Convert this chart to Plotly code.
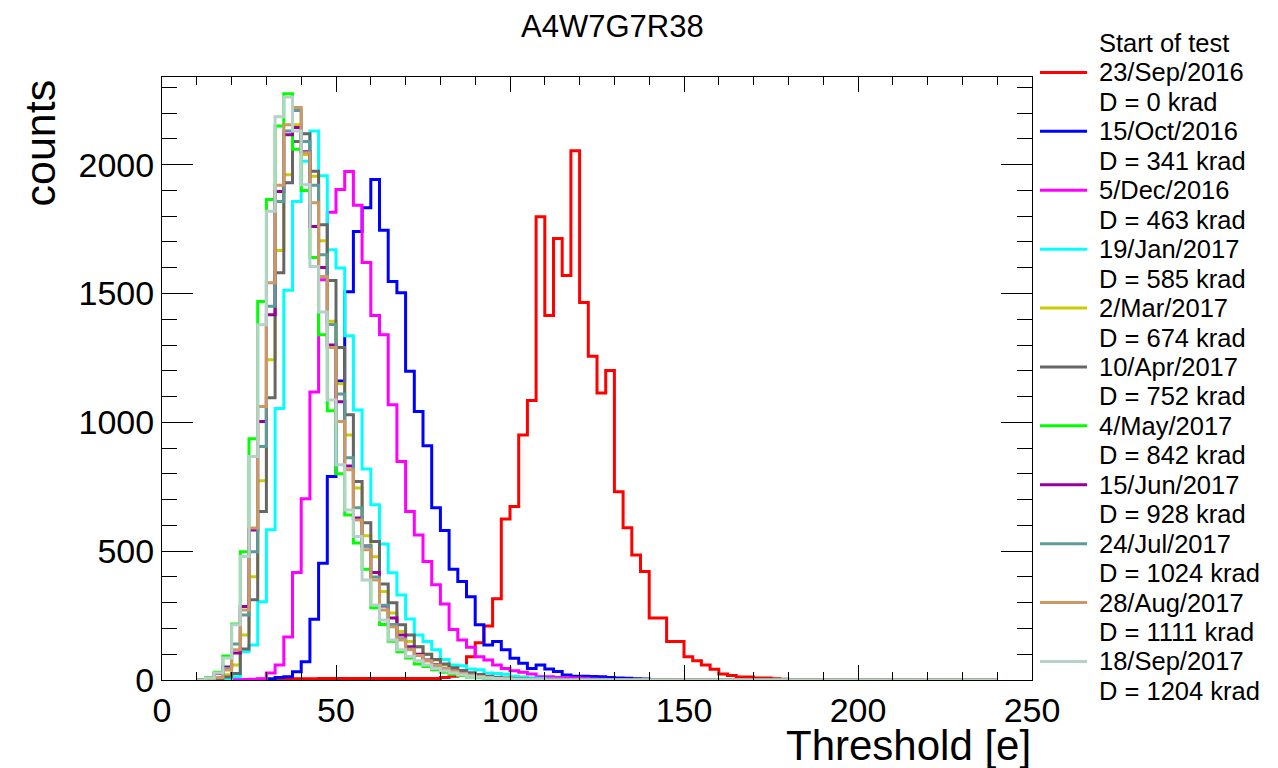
import plotly.graph_objects as go

# ---------------- data ----------------
BIN_LO = 10.0
BIN_W = 2.5
N_BINS = 92  # 10 .. 240

dates = ["23/Sep/2016", "15/Oct/2016", "5/Dec/2016", "19/Jan/2017", "2/Mar/2017",
         "10/Apr/2017", "4/May/2017", "15/Jun/2017", "24/Jul/2017", "28/Aug/2017",
         "18/Sep/2017"]
doses = [0, 341, 463, 585, 674, 752, 842, 928, 1024, 1111, 1204]
colors = ["#ff0000", "#0000ff", "#ff00ff", "#00ffff", "#cccc00", "#666666",
          "#00ff00", "#990099", "#5f9a9a", "#cc9966", "#b4d2c8"]

# first bin low edge of each series, and counts per 2.5 e bin
red_start = 30.0
red = [2, 3, 3, 5, 5, 5, 6, 6, 6, 6, 6, 6, 6, 6, 6, 6, 6, 6, 6, 6, 10, 15, 20,
       90, 145, 210, 315, 625, 673, 951, 1085, 1798, 1414, 1713, 1570, 2054,
       1465, 1256, 1114, 1201, 731, 591, 485, 421, 241, 241, 149, 149, 90, 75,
       58, 42, 23, 17, 12, 12, 8, 8, 5, 3]

blue_start = 27.5
blue = [3, 5, 10, 13, 32, 71, 236, 453, 790, 1160, 1507, 1740, 1833, 1942, 1745,
        1546, 1503, 1198, 1042, 909, 668, 580, 430, 382, 323, 214, 136, 149, 117,
        84, 65, 45, 58, 43, 33, 19, 15, 15, 14, 13, 10, 8, 7, 5, 4, 2]

magenta_start = 20.0
magenta = [2, 2, 3, 5, 27, 58, 167, 417, 703, 1118, 1553, 1815, 1903, 1973, 1842,
           1620, 1414, 1340, 1068, 848, 654, 563, 460, 370, 295, 196, 155, 127,
           90, 78, 58, 45, 36, 30, 23, 13, 13, 10, 9, 8, 6, 4, 3]

cyan_start = 15.0
cyan = [3, 5, 13, 110, 136, 304, 583, 1054, 1512, 1857, 2013, 2130, 1957, 1670,
        1599, 1336, 1048, 819, 680, 528, 416, 330, 237, 175, 149, 117, 80, 58, 55,
        43, 40, 27, 25, 22, 15, 12, 8, 6, 4, 3, 2]

olive_start = 15.0
olive = [8, 20, 58, 175, 401, 773, 1243, 1667, 1961, 2155, 2039, 1955, 1705, 1392,
         1150, 951, 745, 560, 478, 343, 260, 188, 149, 129, 100, 78, 60, 46, 35,
         26, 19, 14, 10, 7, 5, 3, 2, 1]

dimgray_start = 15.0
dimgray = [5, 12, 25, 120, 311, 654, 1095, 1580, 1930, 2090, 2120, 1974, 1767,
           1550, 1290, 1029, 770, 610, 537, 373, 300, 214, 175, 129, 100, 80, 62,
           48, 37, 28, 21, 15, 11, 8, 6, 4, 3, 2, 1]

green_start = 12.5
green = [10, 30, 93, 217, 498, 936, 1469, 1865, 2150, 2275, 2060, 1900, 1640,
         1340, 1045, 800, 640, 532, 430, 280, 215, 150, 110, 85, 62, 52, 40, 30,
         22, 17, 12, 9, 7, 5, 3, 2]

purple_start = 15.0
purple = [25, 50, 105, 285, 582, 1003, 1417, 1896, 2116, 2144, 2050, 1760, 1601,
          1300, 1080, 830, 629, 520, 417, 287, 241, 175, 129, 100, 78, 60, 46, 35,
          26, 19, 14, 10, 7, 5, 3, 2, 1]

teal_start = 15.0
teal = [10, 45, 140, 252, 498, 906, 1450, 1857, 2130, 2210, 2090, 1920, 1650,
        1380, 1110, 862, 668, 520, 400, 290, 215, 160, 120, 95, 75, 57, 44, 33,
        25, 18, 13, 9, 6, 4, 3, 2]

tan_start = 12.5
tan = [3, 10, 39, 117, 272, 590, 1061, 1542, 1920, 2155, 2222, 2046, 1852, 1566,
       1290, 1003, 816, 621, 505, 388, 272, 207, 155, 117, 95, 75, 58, 45, 35, 26,
       19, 14, 10, 7, 5, 4, 3, 2, 1]

lgray_start = 12.5
lgray = [8, 27, 85, 214, 479, 867, 1379, 1819, 2186, 2262, 2130, 1922, 1605, 1428,
         1087, 835, 660, 557, 388, 291, 233, 155, 117, 91, 75, 58, 45, 35, 27, 20,
         15, 11, 8, 6, 4, 3, 2, 2, 1]

series = [(red_start, red), (blue_start, blue), (magenta_start, magenta),
          (cyan_start, cyan), (olive_start, olive), (dimgray_start, dimgray),
          (green_start, green), (purple_start, purple), (teal_start, teal),
          (tan_start, tan), (lgray_start, lgray)]

x_ticks = [0, 50, 100, 150, 200, 250]
y_ticks = [0, 500, 1000, 1500, 2000]

# ---------------- figure ----------------
FONT = "Liberation Sans, Arial, Helvetica, sans-serif"
W, H = 1278, 768
ML, MR, MT, MB = 162, 246, 77, 88
PW, PH = W - ML - MR, H - MT - MB


def full_counts(start, vals):
    counts = [0.0] * N_BINS
    i0 = int(round((start - BIN_LO) / BIN_W))
    for k, v in enumerate(vals):
        if 0 <= i0 + k < N_BINS:
            counts[i0 + k] = v
    return counts


edges = [BIN_LO + i * BIN_W for i in range(N_BINS + 1)]

fig = go.Figure()
for (start, vals), col, d in zip(series, colors, dates):
    c = full_counts(start, vals)
    xs = [edges[0]] + edges[:N_BINS] + [edges[N_BINS]]
    ys = [0] + c + [0]
    fig.add_trace(go.Scatter(x=xs, y=ys, mode="lines", line_shape="hv",
                             line=dict(color=col, width=3), name=d,
                             showlegend=False, hoverinfo="skip"))


def px_x(px):
    return (px - ML) / PW


def px_y(py):
    return (H - MB - py) / PH


annotations = []
shapes = []
# title
annotations.append(dict(text="A4W7G7R38", xref="paper", yref="paper",
                        x=px_x(612), y=px_y(27), showarrow=False,
                        xanchor="center", yanchor="middle",
                        font=dict(family=FONT, size=31, color="black")))
# axis titles
annotations.append(dict(text="counts", xref="paper", yref="paper",
                        x=px_x(39), y=px_y(78), showarrow=False, textangle=-90,
                        xanchor="center", yanchor="top",
                        font=dict(family=FONT, size=43, color="black")))
annotations.append(dict(text="Threshold [e]", xref="paper", yref="paper",
                        x=px_x(1033), y=px_y(745), showarrow=False,
                        xanchor="right", yanchor="middle",
                        font=dict(family=FONT, size=42, color="black")))

# legend (manual)
LEG_TEXT_X = 1097
LEG_Y0 = 43
LEG_DY = 29.45
annotations.append(dict(text="Start of test", xref="paper", yref="paper",
                        x=px_x(LEG_TEXT_X), y=px_y(LEG_Y0), showarrow=False,
                        xanchor="left", yanchor="middle",
                        font=dict(family=FONT, size=25.5, color="black")))
for i, (d, dose, col) in enumerate(zip(dates, doses, colors)):
    y1 = LEG_Y0 + LEG_DY * (2 * i + 1)
    y2 = LEG_Y0 + LEG_DY * (2 * i + 2)
    annotations.append(dict(text=d, xref="paper", yref="paper",
                            x=px_x(LEG_TEXT_X), y=px_y(y1), showarrow=False,
                            xanchor="left", yanchor="middle",
                            font=dict(family=FONT, size=25.5, color="black")))
    annotations.append(dict(text=f"D = {dose} krad", xref="paper", yref="paper",
                            x=px_x(LEG_TEXT_X), y=px_y(y2), showarrow=False,
                            xanchor="left", yanchor="middle",
                            font=dict(family=FONT, size=25.5, color="black")))
    shapes.append(dict(type="line", xref="paper", yref="paper",
                       x0=px_x(1040), x1=px_x(1087), y0=px_y(y1), y1=px_y(y1),
                       line=dict(color=col, width=3)))

fig.update_layout(
    width=W, height=H,
    margin=dict(l=ML, r=MR, t=MT, b=MB, pad=0),
    paper_bgcolor="white", plot_bgcolor="white",
    annotations=annotations, shapes=shapes,
    font=dict(family=FONT, color="black"),
    xaxis=dict(range=[0, 250], tickvals=x_ticks, ticks="inside", ticklen=15,
               tickwidth=1, tickcolor="black", showline=True, linecolor="black",
               linewidth=1, mirror="allticks", showgrid=False, zeroline=False,
               tickfont=dict(family=FONT, size=34, color="black"),
               minor=dict(dtick=10, ticklen=8, tickwidth=1, tickcolor="black",
                          ticks="inside", showgrid=False)),
    yaxis=dict(range=[0, 2340], tickvals=y_ticks, ticks="inside", ticklen=31,
               tickwidth=1, tickcolor="black", showline=True, linecolor="black",
               linewidth=1, mirror="allticks", showgrid=False, zeroline=False,
               tickfont=dict(family=FONT, size=34, color="black"),
               minor=dict(dtick=100, ticklen=15, tickwidth=1, tickcolor="black",
                          ticks="inside", showgrid=False)),
)

fig.write_html("out.html")
